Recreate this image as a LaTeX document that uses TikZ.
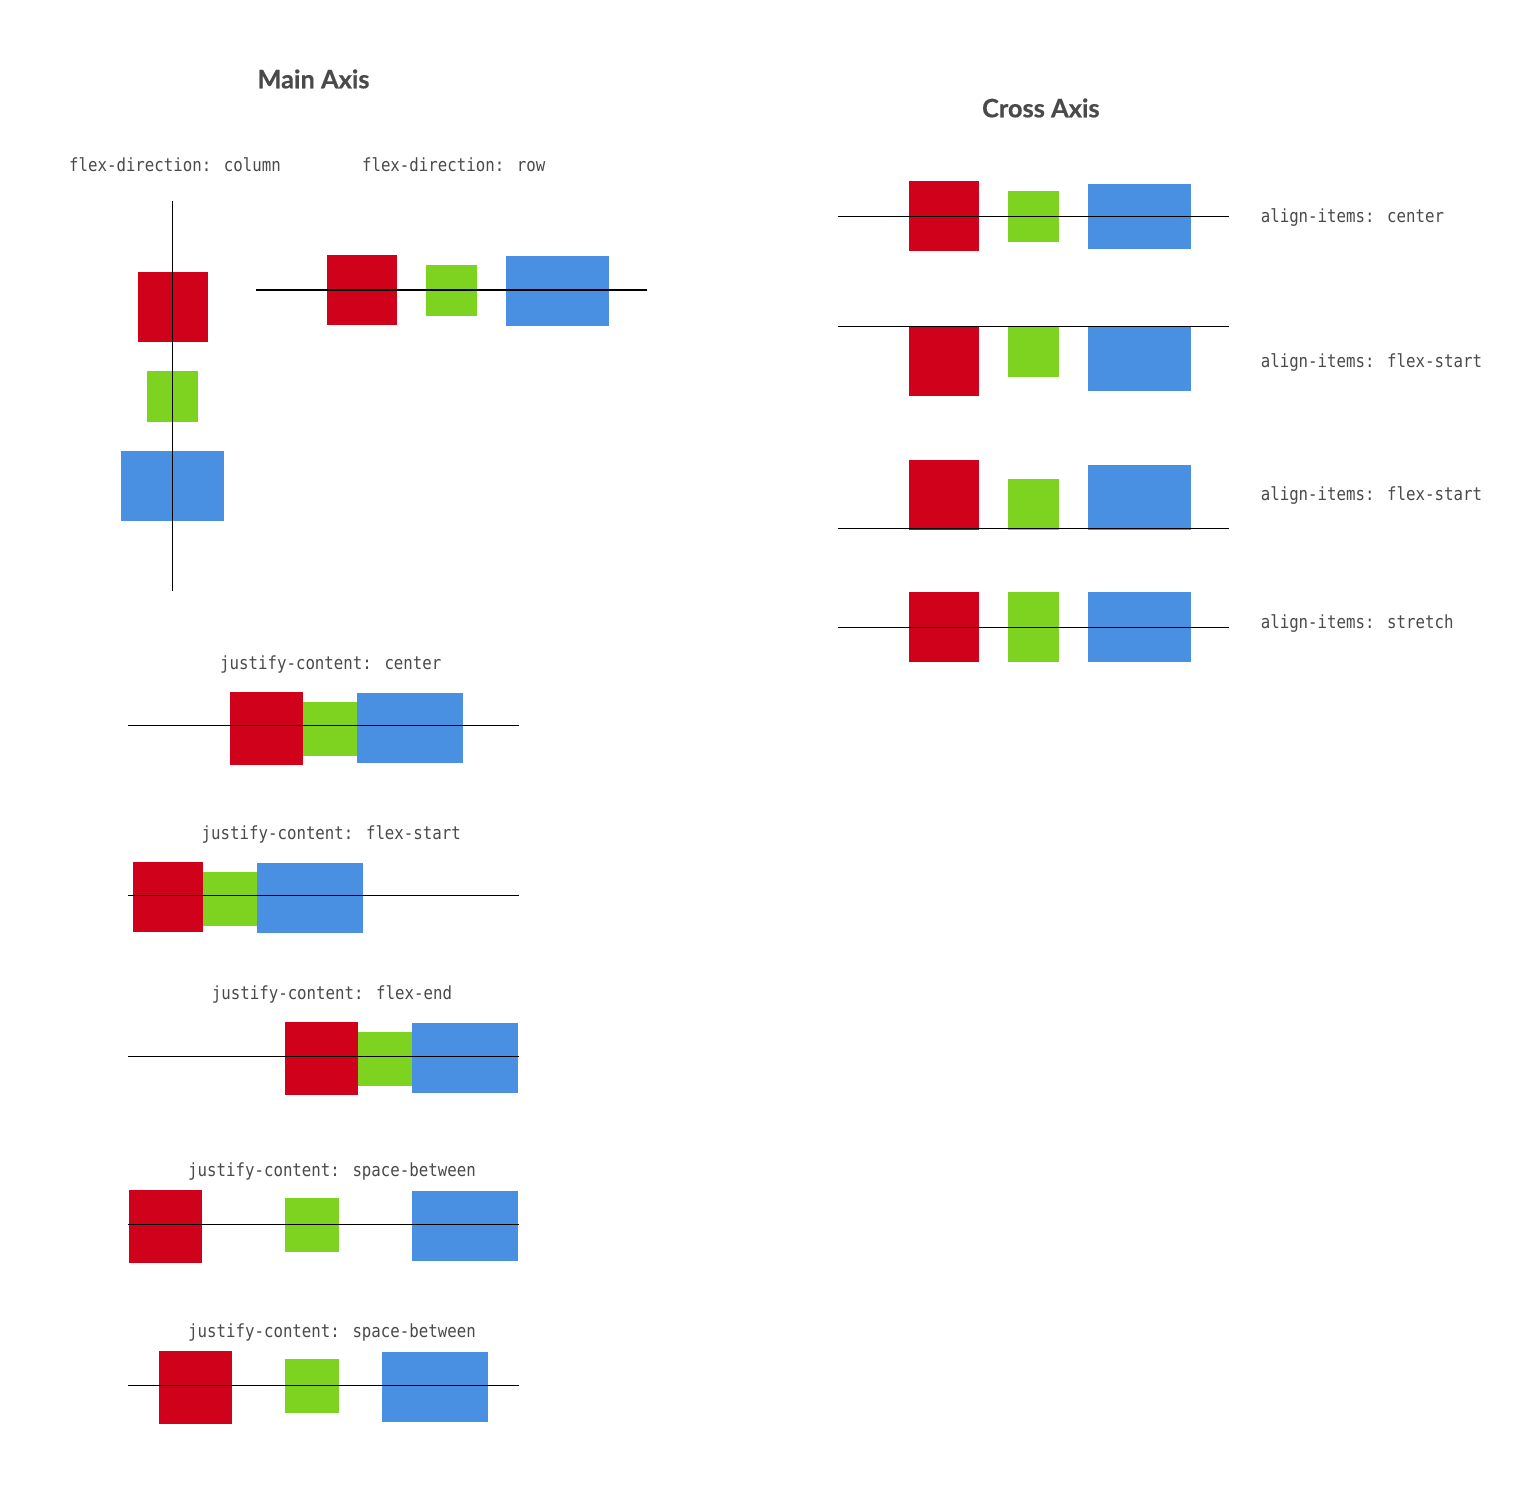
\documentclass[tikz,border=0pt]{standalone}
\usepackage{fontspec}
\newfontfamily\titlefont[BoldFeatures={FakeBold=0.5}]{Lato}
\newfontfamily\codefont[FakeStretch=0.87]{DejaVu Sans Mono}
\definecolor{flexred}{HTML}{D0021B}
\definecolor{flexgreen}{HTML}{7ED321}
\definecolor{flexblue}{HTML}{4A90E2}
\definecolor{labelgray}{HTML}{4A4A4A}

% flex item: colour, left, top, width, height, name
\newcommand\flexitem[6]{%
  \node[item, fill=#1, minimum width=#4pt, minimum height=#5pt] (#6) at (#2,#3) {};}

\begin{document}
\begin{tikzpicture}[x=1pt,y=-1pt,
  item/.style={anchor=north west, inner sep=0pt, outer sep=0pt, draw=none},
  axisline/.style={draw=black, line width=1.1pt},
  heading/.style={anchor=base, inner sep=0pt, text=labelgray,
    font=\titlefont\bfseries\fontsize{25.4}{28}\selectfont},
  code/.style={inner sep=0pt, text=labelgray,
    font=\codefont\fontsize{18.1}{20}\selectfont},
  codec/.style={code, anchor=base},
  codel/.style={code, anchor=base west}]

\useasboundingbox[fill=white] (0,0) rectangle (1531,1487);

% ---------------- headings ----------------
\node[heading] (hmain)  at (313.5,88.3)   {Main Axis};
\node[heading] (hcross) at (1040.8,117.3) {Cross Axis};

% ---------------- flex-direction ----------------
\node[codec] (tcol) at (175,171.7)   {flex-direction: column};
\node[codec] (trow) at (453.7,171.7) {flex-direction: row};

\flexitem{flexred}{138}{272}{70}{70}{colR}
\flexitem{flexgreen}{147}{371}{51}{51}{colG}
\flexitem{flexblue}{121}{451}{103}{70}{colB}
\coordinate (colTop) at (172.5,201);
\coordinate (colBot) at (172.5,591);
\draw[axisline] (colTop) -- (colBot);

\flexitem{flexred}{327}{255}{70}{70}{rowR}
\flexitem{flexgreen}{426}{265}{51}{51}{rowG}
\flexitem{flexblue}{506}{256}{103}{70}{rowB}
\coordinate (rowL) at (256,290);
\coordinate (rowE) at (647,290);
\draw[axisline] (rowL) -- (rowE);

% ---------------- justify-content ----------------
\node[codec] (tj1) at (330.8,669) {justify-content: center};
\flexitem{flexred}{230}{692}{73}{73}{j1R}
\flexitem{flexgreen}{303}{702}{54}{54}{j1G}
\flexitem{flexblue}{357}{693}{106}{70}{j1B}
\coordinate (j1L) at (128,725.3);
\coordinate (j1E) at (519,725.3);
\draw[axisline] (j1L) -- (j1E);

\node[codec] (tj2) at (331.3,839) {justify-content: flex-start};
\flexitem{flexred}{133}{862}{70}{70}{j2R}
\flexitem{flexgreen}{203}{872}{54}{54}{j2G}
\flexitem{flexblue}{257}{863}{106}{70}{j2B}
\coordinate (j2L) at (128,895.3);
\coordinate (j2E) at (519,895.3);
\draw[axisline] (j2L) -- (j2E);

\node[codec] (tj3) at (332,999) {justify-content: flex-end};
\flexitem{flexred}{285}{1022}{73}{73}{j3R}
\flexitem{flexgreen}{358}{1032}{54}{54}{j3G}
\flexitem{flexblue}{412}{1023}{106}{70}{j3B}
\coordinate (j3L) at (128,1056.3);
\coordinate (j3E) at (519,1056.3);
\draw[axisline] (j3L) -- (j3E);

\node[codec] (tj4) at (332,1176.3) {justify-content: space-between};
\flexitem{flexred}{129}{1190}{73}{73}{j4R}
\flexitem{flexgreen}{285}{1198}{54}{54}{j4G}
\flexitem{flexblue}{412}{1191}{106}{70}{j4B}
\coordinate (j4L) at (128,1224.3);
\coordinate (j4E) at (519,1224.3);
\draw[axisline] (j4L) -- (j4E);

\node[codec] (tj5) at (332,1337.3) {justify-content: space-between};
\flexitem{flexred}{159}{1351}{73}{73}{j5R}
\flexitem{flexgreen}{285}{1359}{54}{54}{j5G}
\flexitem{flexblue}{382}{1352}{106}{70}{j5B}
\coordinate (j5L) at (128,1385.3);
\coordinate (j5E) at (519,1385.3);
\draw[axisline] (j5L) -- (j5E);

% ---------------- align-items ----------------
\flexitem{flexred}{909}{181}{70}{70}{a1R}
\flexitem{flexgreen}{1008}{191}{51}{51}{a1G}
\flexitem{flexblue}{1088}{184}{103}{65}{a1B}
\coordinate (a1L) at (838,216.3);
\coordinate (a1E) at (1229,216.3);
\draw[axisline] (a1L) -- (a1E);
\node[codel] (ta1) at (1260.6,222.3) {align-items: center};

\flexitem{flexred}{909}{326}{70}{70}{a2R}
\flexitem{flexgreen}{1008}{326}{51}{51}{a2G}
\flexitem{flexblue}{1088}{326}{103}{65}{a2B}
\coordinate (a2L) at (838,326.3);
\coordinate (a2E) at (1229,326.3);
\draw[axisline] (a2L) -- (a2E);
\node[codel] (ta2) at (1260.6,367.3) {align-items: flex-start};

\flexitem{flexred}{909}{460}{70}{70}{a3R}
\flexitem{flexgreen}{1008}{479}{51}{51}{a3G}
\flexitem{flexblue}{1088}{465}{103}{65}{a3B}
\coordinate (a3L) at (838,528.3);
\coordinate (a3E) at (1229,528.3);
\draw[axisline] (a3L) -- (a3E);
\node[codel] (ta3) at (1260.6,500.7) {align-items: flex-start};

\flexitem{flexred}{909}{592}{70}{70}{a4R}
\flexitem{flexgreen}{1008}{592}{51}{70}{a4G}
\flexitem{flexblue}{1088}{592}{103}{70}{a4B}
\coordinate (a4L) at (838,627.3);
\coordinate (a4E) at (1229,627.3);
\draw[axisline] (a4L) -- (a4E);
\node[codel] (ta4) at (1260.6,628.3) {align-items: stretch};

\end{tikzpicture}
\end{document}
